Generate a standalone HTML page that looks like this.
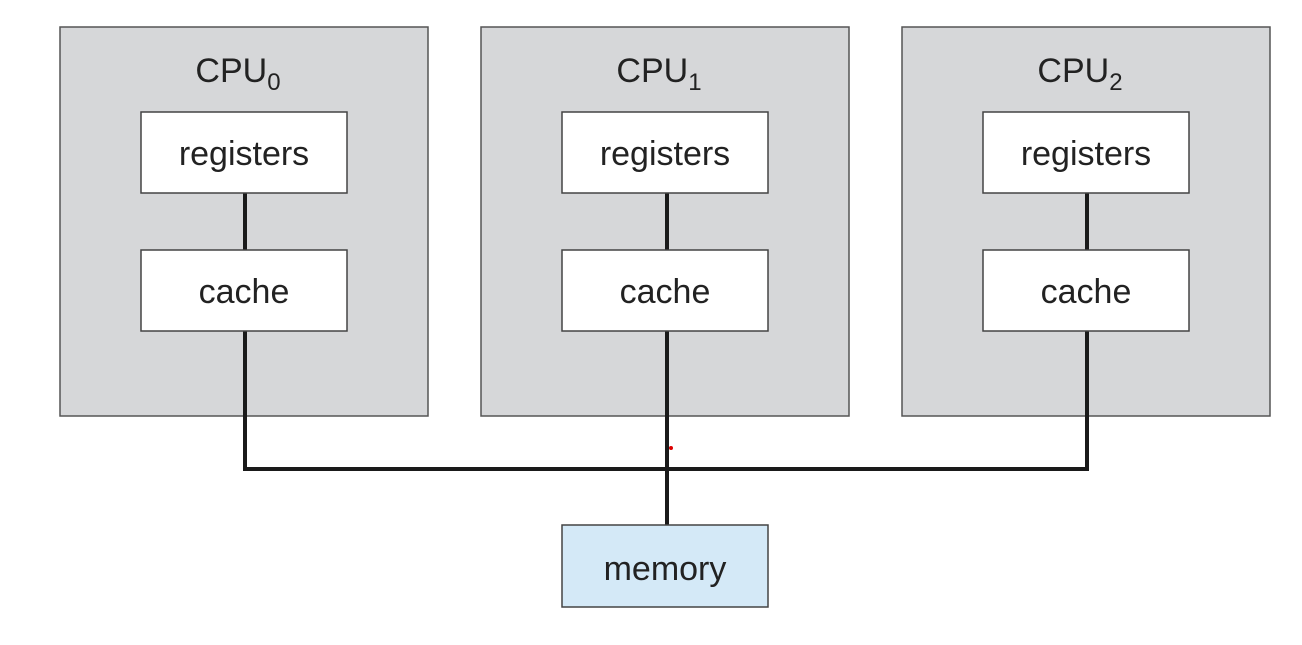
<!DOCTYPE html>
<html><head><style>
body{margin:0;background:#fff;width:1302px;height:640px;overflow:hidden}
svg text{font-family:"Liberation Sans",sans-serif;fill:#222}
</style></head><body>
<svg width="1302" height="640" xmlns="http://www.w3.org/2000/svg">
<g stroke="#555" stroke-width="1.5">
<rect x="60" y="27" width="368" height="389" fill="#d6d7d9"/>
<rect x="481" y="27" width="368" height="389" fill="#d6d7d9"/>
<rect x="902" y="27" width="368" height="389" fill="#d6d7d9"/>
</g>
<g stroke="#1a1a1a" stroke-width="4" fill="none">
<line x1="245" y1="193" x2="245" y2="250"/>
<line x1="667" y1="193" x2="667" y2="250"/>
<line x1="1087" y1="193" x2="1087" y2="250"/>
<polyline points="245,331 245,469 1087,469 1087,331"/>
<line x1="667" y1="331" x2="667" y2="525"/>
</g>
<circle cx="671" cy="448" r="2" fill="#d00"/>
<g stroke="#444" stroke-width="1.5" fill="#fff">
<rect x="141" y="112" width="206" height="81"/>
<rect x="141" y="250" width="206" height="81"/>
<rect x="562" y="112" width="206" height="81"/>
<rect x="562" y="250" width="206" height="81"/>
<rect x="983" y="112" width="206" height="81"/>
<rect x="983" y="250" width="206" height="81"/>
<rect x="562" y="525" width="206" height="82" fill="#d4e9f7"/>
</g>
<g font-size="34" text-anchor="middle">
<text x="244" y="165">registers</text>
<text x="244" y="303">cache</text>
<text x="665" y="165">registers</text>
<text x="665" y="303">cache</text>
<text x="1086" y="165">registers</text>
<text x="1086" y="303">cache</text>
<text x="665" y="580">memory</text>
<text x="238" y="82">CPU<tspan font-size="24" dy="8">0</tspan></text>
<text x="659" y="82">CPU<tspan font-size="24" dy="8">1</tspan></text>
<text x="1080" y="82">CPU<tspan font-size="24" dy="8">2</tspan></text>
</g>
</svg>
</body></html>
